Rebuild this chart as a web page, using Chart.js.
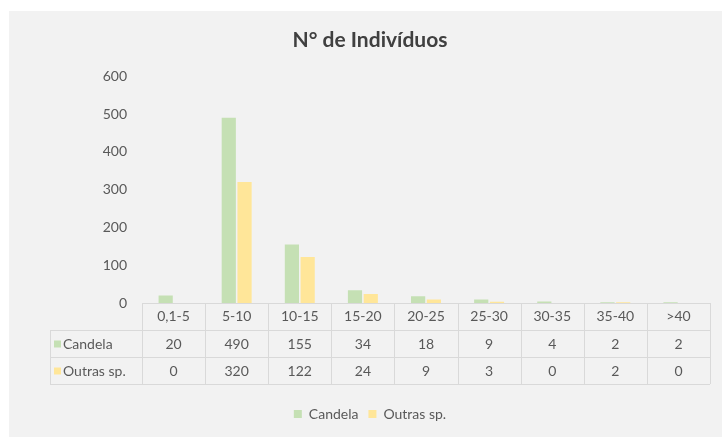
<!DOCTYPE html>
<html>
<head>
<meta charset="utf-8">
<script src="https://cdn.jsdelivr.net/npm/chart.js@4"></script>
<style>
  html, body { margin: 0; padding: 0; background: #ffffff; }
  #wrap { width: 722px; height: 437px; }
</style>
</head>
<body>
<div id="wrap"><canvas id="chart" width="722" height="437"></canvas></div>
<script>
// Diameter classes, counts per group.
const categories = ["0,1-5", "5-10", "10-15", "15-20", "20-25", "25-30", "30-35", "35-40", ">40"];
const candela = [20, 490, 155, 34, 18, 9, 4, 2, 2];
const outras = [0, 320, 122, 24, 9, 3, 0, 2, 0];
const seriesNames = ["Candela", "Outras sp."];
const yTicks = [0, 100, 200, 300, 400, 500, 600];

const GREEN = "#c5e0b4";
const GOLD = "#ffe699";
const TEXT = "#595959";
const LINE = "#d9d9d9";
const FONT = "Lato, 'Liberation Sans', sans-serif";
const ROW_H = 27;

// Gray chart panel with a thin white margin top and left, like the pasted Excel image.
const panel = {
  id: "panel",
  beforeDraw(chart) {
    const { ctx, width, height } = chart;
    ctx.save();
    ctx.fillStyle = "#ffffff";
    ctx.fillRect(0, 0, width, height);
    ctx.fillStyle = "#f2f2f2";
    ctx.fillRect(9, 11, width - 9, height - 11);
    ctx.restore();
  },
};

// Excel style data table: the x tick labels form the header row, then one row per series.
const dataTable = {
  id: "dataTable",
  afterDraw(chart) {
    const { ctx, chartArea } = chart;
    const x = chart.scales.x;
    const n = categories.length;
    const colW = x.width / n;
    const top = chartArea.bottom;
    const bottom = top + ROW_H * 3;
    const tableLeft = 50;
    const rows = [
      { name: seriesNames[0], color: GREEN, values: candela },
      { name: seriesNames[1], color: GOLD, values: outras },
    ];

    ctx.save();
    ctx.strokeStyle = LINE;
    ctx.lineWidth = 1;
    ctx.beginPath();
    ctx.moveTo(x.left, top + 0.5);
    ctx.lineTo(x.right, top + 0.5);
    for (let r = 1; r <= 3; r++) {
      const y = Math.round(top + ROW_H * r) + 0.5;
      ctx.moveTo(tableLeft, y);
      ctx.lineTo(x.right, y);
    }
    for (let i = 0; i <= n; i++) {
      const xx = Math.round(x.left + colW * i) + 0.5;
      ctx.moveTo(xx, top);
      ctx.lineTo(xx, bottom);
    }
    ctx.moveTo(tableLeft + 0.5, top + ROW_H);
    ctx.lineTo(tableLeft + 0.5, bottom);
    ctx.stroke();

    ctx.font = "14px " + FONT;
    ctx.textBaseline = "middle";
    rows.forEach((row, r) => {
      const cy = top + ROW_H * (r + 1.5) + 1;
      ctx.fillStyle = row.color;
      ctx.fillRect(tableLeft + 4, cy - 4, 7, 7);
      ctx.fillStyle = TEXT;
      ctx.textAlign = "left";
      ctx.fillText(row.name, tableLeft + 13, cy);
      ctx.textAlign = "center";
      row.values.forEach((v, i) => {
        ctx.fillText(String(v), x.getPixelForValue(i), cy);
      });
    });
    ctx.restore();
  },
};

new Chart(document.getElementById("chart"), {
  type: "bar",
  data: {
    labels: categories,
    datasets: [
      { label: seriesNames[0], data: candela, backgroundColor: GREEN },
      { label: seriesNames[1], data: outras, backgroundColor: GOLD },
    ],
  },
  options: {
    responsive: false,
    animation: false,
    categoryPercentage: 0.5,
    barPercentage: 0.9,
    layout: { padding: { left: 30, right: 12, top: 11, bottom: 6 } },
    plugins: {
      title: {
        display: true,
        text: "N° de Indivíduos",
        color: "#404040",
        font: { family: FONT, size: 21, weight: "bold" },
        padding: { top: 17, bottom: 23 },
      },
      legend: {
        position: "bottom",
        labels: {
          color: TEXT,
          font: { family: FONT, size: 14 },
          boxWidth: 8,
          boxHeight: 8,
          padding: 10,
        },
      },
      tooltip: { enabled: false },
    },
    scales: {
      x: {
        grid: { display: false, drawTicks: false },
        border: { display: false },
        ticks: { color: TEXT, font: { family: FONT, size: 14 }, padding: 5, maxRotation: 0 },
        afterFit(scale) { scale.height = 94; },
      },
      y: {
        min: yTicks[0],
        max: yTicks[yTicks.length - 1],
        grid: { display: false, drawTicks: false },
        border: { display: false },
        ticks: { stepSize: yTicks[1] - yTicks[0], color: TEXT, font: { family: FONT, size: 14 }, padding: 15 },
        afterFit(scale) { scale.width = 112; },
      },
    },
  },
  plugins: [panel, dataTable],
});
</script>
</body>
</html>
